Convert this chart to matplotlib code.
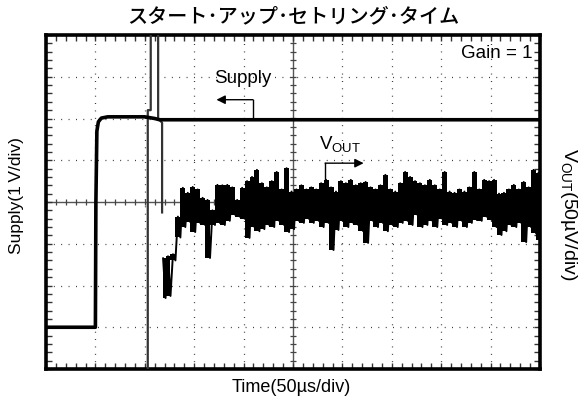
import numpy as np
import matplotlib
matplotlib.use("Agg")
import matplotlib.pyplot as plt

plt.rcParams['font.family'] = ['Liberation Sans', 'DejaVu Sans']

# Screen is 10 x 8 divisions; time 50 us/div, supply 1 V/div, Vout 50 uV/div
n_xdiv, n_ydiv = 10, 8

# Supply trace (time in div, level in div from screen centre)
supply_t = [0.0, 1.0, 1.01, 1.03, 1.06, 1.12, 1.25, 2.0, 2.1, 2.2, 2.3, 10.0]
supply_v = [-3.0, -3.0, 0.0, 1.7, 1.92, 2.01, 2.04, 2.04, 2.02, 2.0, 1.97, 1.97]

# Vout during power-up: trace swings past the screen limits
spike_t = [2.06, 2.06, 2.12, 2.12, 2.27, 2.27, 2.35, 2.35]
spike_v = [-4.6, 2.2, 2.2, 4.6, 4.6, 2.0, 1.9, -0.25]

# Vout settling record (div), sampled every 0.05 div from t = 2.37
vout_t0, vout_dt = 2.37, 0.05
vout_v = [
    -1.35, -2.30, -1.30, -2.25, -1.25, -1.40, -0.35, -0.85, 0.34, -0.60,
    0.22, -0.48, 0.36, -0.72, 0.30, -0.50, 0.10, -0.55, 0.05, -1.34,
    -0.20, -0.55, 0.41, -0.50, 0.40, -0.55, 0.41, -0.45, 0.35, -0.30,
    0.05, -0.35, 0.34, -0.40, 0.50, -0.86, 0.60, -0.60, 0.77, -0.70,
    0.45, -0.65, 0.35, -0.55, 0.50, -0.60, 0.72, -0.45, 0.30, -0.55,
    0.81, -0.72, 0.25, -0.65, 0.30, -0.45, 0.40, -0.50, 0.30, -0.40,
    0.35, -0.50, 0.30, -0.45, 0.45, -0.60, 0.53, -0.50, 0.35, -1.15,
    0.25, -0.67, 0.50, -0.45, 0.45, -0.60, 0.53, -0.50, 0.40, -0.55,
    0.45, -0.70, 0.48, -0.98, 0.35, -0.45, 0.30, -0.60, 0.40, -0.50,
    0.65, -0.70, 0.30, -0.55, 0.25, -0.60, 0.45, -0.50, 0.72, -0.45,
    0.60, -0.55, 0.50, -0.31, 0.45, -0.60, 0.40, -0.55, 0.53, -0.45,
    0.40, -0.60, 0.30, -0.40, 0.72, -0.55, 0.25, -0.50, 0.22, -0.60,
    0.30, -0.45, 0.25, -0.60, 0.35, -0.50, 0.72, -0.43, 0.30, -0.45,
    0.53, -0.35, 0.50, -0.43, 0.53, -0.60, 0.20, -0.79, 0.22, -0.70,
    0.30, -0.55, 0.41, -0.60, 0.30, -0.50, 0.48, -0.96, 0.35, -0.60,
    0.77, -0.75, 0.70, -0.90,
]
vout_t = vout_t0 + vout_dt * np.arange(len(vout_v))

title = "スタート･アップ･セトリング･タイム"
x_label = "Time(50µs/div)"
y_label_left = "Supply(1\u2009V/div)"
y_label_right = "V$_{\\mathregular{OUT}}$(50µV/div)"
gain_text = "Gain = 1"

fig = plt.figure(figsize=(5.82, 4.08), dpi=100)
ax = fig.add_axes([46 / 582, 39 / 408, 494 / 582, 334 / 408])
ax.set_xlim(0, n_xdiv)
ax.set_ylim(-n_ydiv / 2, n_ydiv / 2)

# Graticule: dotted division lines, solid centre axes with fine ticks
dot_style = (0, (0.7, 5.2))
for i in range(1, n_xdiv):
    if i != n_xdiv // 2:
        ax.axvline(i, color='#222222', lw=0.9, ls=dot_style, zorder=1)
for j in range(-n_ydiv // 2 + 1, n_ydiv // 2):
    if j != 0:
        ax.axhline(j, color='#222222', lw=0.9, ls=dot_style, zorder=1)
ax.axvline(n_xdiv / 2, color='#555555', lw=1.0, zorder=1)
ax.axhline(0, color='#555555', lw=1.0, zorder=1)
fine_x = np.arange(0, n_xdiv + 0.01, 0.2)
fine_y = np.arange(-n_ydiv / 2, n_ydiv / 2 + 0.01, 0.2)
ax.scatter(fine_x, np.zeros_like(fine_x), marker='|', s=22, c='#444444',
           linewidths=0.9, zorder=1)
ax.scatter(np.full_like(fine_y, n_xdiv / 2), fine_y, marker='_', s=22,
           c='#444444', linewidths=0.9, zorder=1)

# Frame ticks
ax.set_xticks(np.arange(0, n_xdiv + 0.01, 1))
ax.set_yticks(np.arange(-n_ydiv / 2, n_ydiv / 2 + 0.01, 1))
ax.set_xticks(fine_x, minor=True)
ax.set_yticks(fine_y, minor=True)
ax.tick_params(which='both', direction='in', top=True, right=True,
               labelbottom=False, labelleft=False, length=4, width=1.0,
               color='#333333')
for s in ax.spines.values():
    s.set_linewidth(2.6)
    s.set_color('black')

# Traces
ax.plot(spike_t, spike_v, color='#333333', lw=1.6, zorder=3)
# noisy Vout: successive peak/trough pairs fill in as a dense band
vv = np.asarray(vout_v)
pair_t = vout_t[0::2]
n_pairs = min(len(vv[0::2]), len(vv[1::2]))
ax.fill_between(pair_t[:n_pairs], vv[0::2][:n_pairs], vv[1::2][:n_pairs],
                step='mid', color='black', lw=0, zorder=3)
ax.plot(vout_t, vout_v, color='black', lw=1.4, zorder=3)
ax.plot(supply_t, supply_v, color='black', lw=2.6, zorder=4,
        solid_joinstyle='round')

# Annotations
ax.text(9.85, 3.55, gain_text, ha='right', va='center', fontsize=13.5)
ax.text(3.98, 2.95, "Supply", ha='center', va='center', fontsize=13.5)
ax.plot([4.19, 4.19], [2.02, 2.45], color='black', lw=1.0, zorder=5)
ax.annotate("", xy=(3.45, 2.45), xytext=(4.19, 2.45),
            arrowprops=dict(arrowstyle='-|>', color='black', lw=1.0,
                            mutation_scale=13, shrinkA=0, shrinkB=0))
ax.text(5.95, 1.38, r"V$_{\mathregular{OUT}}$", ha='center', va='center',
        fontsize=13.5)
ax.plot([5.65, 5.65], [0.47, 0.93], color='black', lw=1.0, zorder=5)
ax.annotate("", xy=(6.43, 0.93), xytext=(5.65, 0.93),
            arrowprops=dict(arrowstyle='-|>', color='black', lw=1.0,
                            mutation_scale=13, shrinkA=0, shrinkB=0))

fig.text(293 / 582, 1 - 17 / 408, title, ha='center', va='center',
         fontsize=14.5, fontweight='medium',
         family=['Noto Sans CJK JP', 'DejaVu Sans'])
fig.text(291 / 582, 1 - 388 / 408, x_label, ha='center', va='center',
         fontsize=13)
fig.text(17 / 582, 1 - 196 / 408, y_label_left, ha='center', va='center',
         rotation=90, fontsize=12.5)
fig.text(568 / 582, 1 - 214 / 408, y_label_right,
         ha='center', va='center', rotation=270, fontsize=14)

fig.savefig("out.png", dpi=100)
